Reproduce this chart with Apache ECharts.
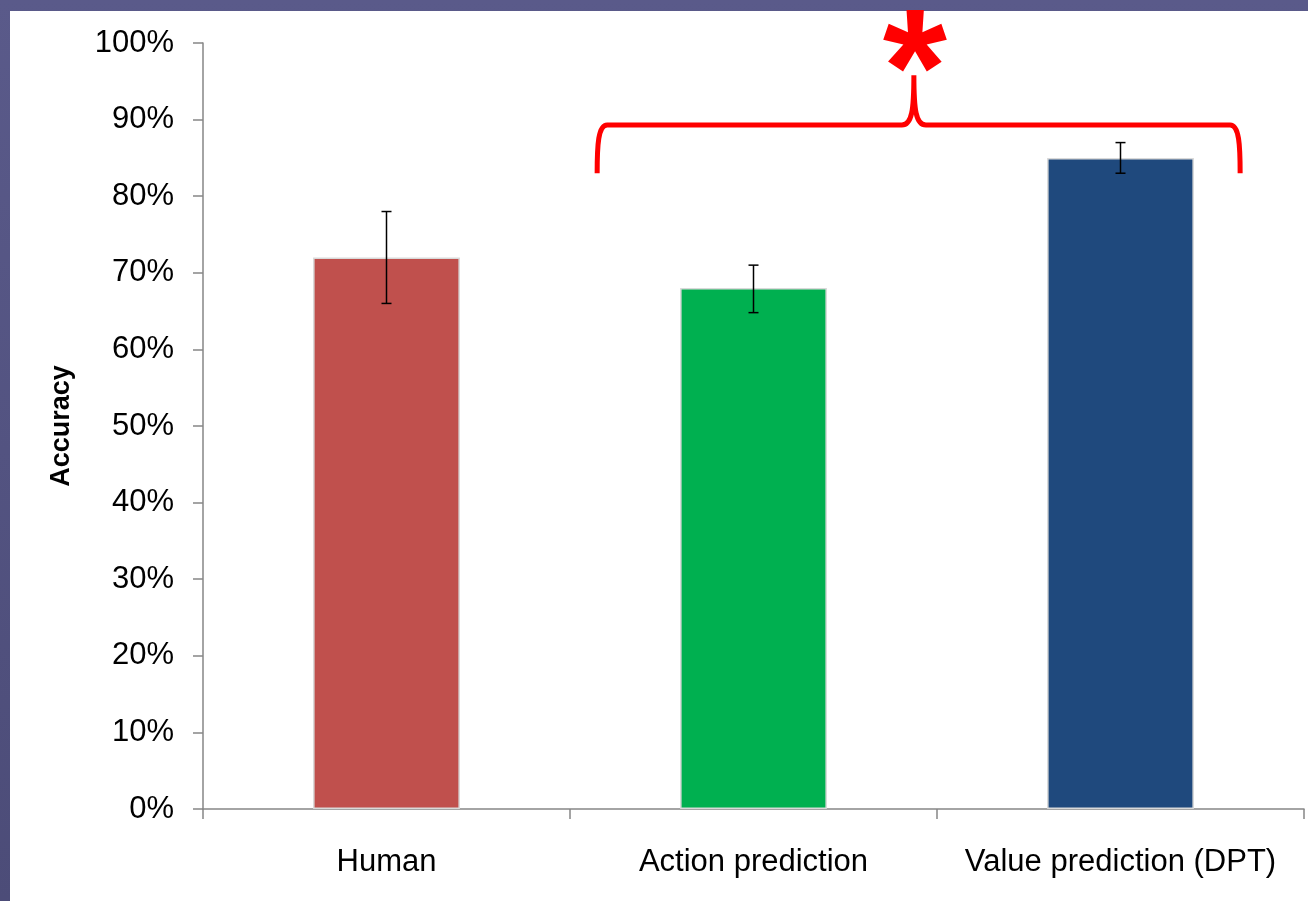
<!DOCTYPE html>
<html><head><meta charset="utf-8">
<script src="https://cdn.jsdelivr.net/npm/echarts@6/dist/echarts.min.js"></script>
<style>
html,body{margin:0;padding:0;width:1308px;height:901px;overflow:hidden;}
body{background:linear-gradient(180deg,#5a5a8a 0%,#4c4c78 100%);position:relative;}
#panel{position:absolute;left:10px;top:11px;right:0;bottom:0;background:#fff;}
#chart{position:absolute;left:0;top:0;width:1308px;height:901px;}
</style></head>
<body><div id="panel"></div><div id="chart"></div>
<script>
const categories = ['Human', 'Action prediction', 'Value prediction (DPT)'];
const accuracy = [0.72, 0.68, 0.85];
const errLow = [0.66, 0.648, 0.83];
const errHigh = [0.78, 0.71, 0.87];
const barColors = ['#C0504D', '#00B050', '#1F497D'];
const yTicks = [0, 0.1, 0.2, 0.3, 0.4, 0.5, 0.6, 0.7, 0.8, 0.9, 1.0];
// significance brace: [xLeft, xMid, xRight, yBottom, yLine, yPeak] in category units / accuracy
const brace = [[0.574, 1.437, 2.326, 0.83, 0.893, 0.958]];
const starMark = [[1.44, 1.061]];

const chart = echarts.init(document.getElementById('chart'), null, {renderer: 'canvas'});
const font = '"Liberation Sans", Arial, sans-serif';

const option = {
  animation: false,
  backgroundColor: 'transparent',
  grid: {left: 203, right: 4, top: 43, bottom: 92, containLabel: false},
  xAxis: [{
    type: 'category', data: categories,
    axisLine: {lineStyle: {color: '#868686', width: 1.5}},
    axisTick: {show: true, length: 10, interval: 0, lineStyle: {color: '#868686', width: 1.5}},
    axisLabel: {color: '#000', fontSize: 31, fontFamily: font, margin: 38, interval: 0}
  }, {
    type: 'value', min: -0.5, max: 2.5, show: false
  }],
  yAxis: {
    type: 'value', min: 0, max: 1, interval: 0.1,
    name: 'Accuracy', nameLocation: 'middle', nameGap: 128,
    nameTextStyle: {color: '#000', fontSize: 27, fontWeight: 'bold', fontFamily: font},
    axisLine: {show: true, onZero: false, lineStyle: {color: '#868686', width: 1.5}},
    axisTick: {show: true, length: 10, lineStyle: {color: '#868686', width: 1.5}},
    splitLine: {show: false},
    axisLabel: {color: '#000', fontSize: 31, fontFamily: font, margin: 29,
      formatter: v => Math.round(v * 100) + '%'}
  },
  series: [{
    type: 'bar', barWidth: '40%',
    data: accuracy.map((v, i) => ({value: v, itemStyle: {color: barColors[i]}})),
    itemStyle: {borderColor: '#d9d9d9', borderWidth: 1.5}
  }, {
    type: 'custom', xAxisIndex: 0, yAxisIndex: 0, z: 10,
    data: categories.map((c, i) => [i, errLow[i], errHigh[i]]),
    renderItem: function (params, api) {
      const lo = api.coord([api.value(0), api.value(1)]);
      const hi = api.coord([api.value(0), api.value(2)]);
      const w = 5;
      const st = {stroke: '#000', lineWidth: 1.5};
      return {type: 'group', children: [
        {type: 'line', shape: {x1: hi[0], y1: hi[1], x2: lo[0], y2: lo[1]}, style: st},
        {type: 'line', shape: {x1: hi[0] - w, y1: hi[1], x2: hi[0] + w, y2: hi[1]}, style: st},
        {type: 'line', shape: {x1: lo[0] - w, y1: lo[1], x2: lo[0] + w, y2: lo[1]}, style: st}
      ]};
    }
  }, {
    type: 'custom', xAxisIndex: 1, yAxisIndex: 0, z: 20, clip: false,
    data: brace,
    renderItem: function (params, api) {
      const L = api.coord([api.value(0), api.value(3)]);
      const M = api.coord([api.value(1), api.value(5)]);
      const R = api.coord([api.value(2), api.value(3)]);
      const yl = api.coord([api.value(0), api.value(4)])[1];
      const r = 10;
      const p = 'M' + L[0] + ',' + L[1] +
        ' C' + L[0] + ',' + (yl + 20) + ' ' + (L[0] + 1) + ',' + yl + ' ' + (L[0] + r) + ',' + yl +
        ' L' + (M[0] - 12) + ',' + yl +
        ' C' + (M[0] - 2) + ',' + yl + ' ' + M[0] + ',' + (yl - 15) + ' ' + M[0] + ',' + M[1] +
        ' C' + M[0] + ',' + (yl - 15) + ' ' + (M[0] + 2) + ',' + yl + ' ' + (M[0] + 12) + ',' + yl +
        ' L' + (R[0] - r) + ',' + yl +
        ' C' + (R[0] - 1) + ',' + yl + ' ' + R[0] + ',' + (yl + 20) + ' ' + R[0] + ',' + R[1];
      return {type: 'path', shape: {pathData: p},
        style: {stroke: '#FF0000', lineWidth: 5, fill: null}};
    }
  }, {
    type: 'custom', xAxisIndex: 1, yAxisIndex: 0, z: 20, clip: false,
    data: starMark,
    renderItem: function (params, api) {
      const P = api.coord([api.value(0), api.value(1)]);
      return {type: 'text', x: P[0], y: P[1],
        style: {text: '*', fill: '#FF0000', fontSize: 165, fontWeight: 'bold',
          fontFamily: font, align: 'center', verticalAlign: 'top'}};
    }
  }]
};
chart.setOption(option);
</script></body></html>
